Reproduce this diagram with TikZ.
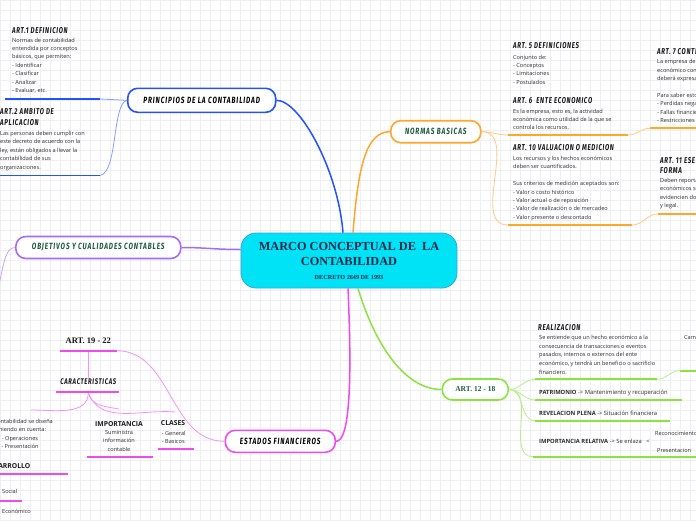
\documentclass[tikz,border=0pt]{standalone}
\usepackage{fontspec}
\setmainfont{Open Sans}
\newfontfamily\handfont[FakeStretch=0.72,LetterSpace=8]{Fira Sans}
\newfontfamily\topicfont[FakeStretch=0.72,LetterSpace=10]{Fira Sans}
\newfontfamily\slabfont{Liberation Serif}
\definecolor{blueline}{HTML}{2352FF}
\definecolor{orangeline}{HTML}{FFA62B}
\definecolor{purpleline}{HTML}{A46CF7}
\definecolor{pinkline}{HTML}{EE4BEF}
\definecolor{greenline}{HTML}{8BE33D}
\definecolor{darkgreen}{HTML}{1C5B3D}
\definecolor{navytext}{HTML}{13294B}
\definecolor{cyanfill}{HTML}{00E2F6}
\definecolor{cyanedge}{HTML}{3AA6DA}
\definecolor{gridline}{HTML}{EEEEF3}
\definecolor{bodytext}{HTML}{2E2E2E}

\begin{document}
\begin{tikzpicture}[x=1pt, y=-1pt,
  topic/.style={draw, line width=1.6pt, fill=white, rounded corners=10pt, inner sep=0pt,
    font=\topicfont\bfseries\itshape\fontsize{9}{10}\selectfont},
  arttitle/.style={anchor=north west, inner sep=0pt, align=left, text=black!90,
    font=\handfont\bfseries\itshape\fontsize{8.5}{10.6}\selectfont},
  artbody/.style={anchor=north west, inner sep=0pt, align=left, text=bodytext,
    font=\fontsize{5.6}{8.4}\selectfont},
  artrow/.style={anchor=base west, inner sep=0pt, text=bodytext,
    font=\fontsize{5.8}{8}\selectfont},
  capsword/.style={inner sep=0pt, text=black!90, font=\bfseries\fontsize{6.8}{8}\selectfont},
  trunk/.style={line width=1.5pt},
  link/.style={line width=0.8pt},
  uline/.style={line width=1.8pt}]
  \useasboundingbox (0,0) rectangle (696,520);
  \fill[white] (0,0) rectangle (696,520);
  \draw[gridline, step=10pt, line width=0.4pt] (0,520) grid (696,0);

  % Central topic.
  \node[draw=cyanedge, fill=cyanfill, line width=0.8pt, rounded corners=15pt,
        minimum width=216pt, minimum height=55pt, inner sep=0pt] (marco) at (349,260.5) {};
  \node[inner sep=0pt, align=center, text=navytext,
        font=\slabfont\bfseries\fontsize{12.3}{14.3}\selectfont] (marcotitle) at (349,254) {MARCO CONCEPTUAL DE~ LA\\CONTABILIDAD};
  \node[inner sep=0pt, text=navytext,
        font=\slabfont\bfseries\fontsize{6.2}{7}\selectfont] (decreto) at (349,277.7) {DECRETO 2649 DE 1993};

  % Main branches.
  \node[topic, draw=blueline, minimum width=148pt, minimum height=24pt] (principios) at (201.7,100.3) {PRINCIPIOS DE LA CONTABILIDAD};
  \node[topic, draw=orangeline, text=darkgreen, minimum width=90pt, minimum height=22pt] (normas) at (435.8,131.7) {NORMAS BASICAS};
  \node[topic, draw=purpleline, text=darkgreen, minimum width=165pt, minimum height=22pt] (objetivos) at (98.3,247.5) {OBJETIVOS Y CUALIDADES CONTABLES};
  \node[topic, draw=pinkline, minimum width=110pt, minimum height=22pt] (estados) at (280.3,441.3) {ESTADOS FINANCIEROS};
  \node[topic, draw=greenline, text=darkgreen, minimum width=66pt, minimum height=21pt,
        font=\slabfont\bfseries\fontsize{7.5}{8}\selectfont] (art12) at (475.3,389.5) {ART. 12 - 18};

  \draw[trunk, blueline] ([xshift=-6pt]marco.north) .. controls (338,170) and (300,100.3) .. (principios.east);
  \draw[trunk, orangeline] ([xshift=4pt]marco.north) .. controls (358,170) and (365,131.7) .. (normas.west);
  \draw[trunk, purpleline] ([yshift=11pt]marco.west) .. controls (215,249.5) and (205,247.5) .. (objetivos.east);
  \draw[trunk, pinkline] ([xshift=-1pt]marco.south) .. controls (352,380) and (350,441.3) .. (estados.east);
  \draw[trunk, greenline] ([xshift=9pt]marco.south) .. controls (375,345) and (405,389.5) .. (art12.west);

  % Principios de la contabilidad.
  \coordinate (art1L) at (5,99);   \coordinate (art1R) at (100,99);
  \coordinate (art2L) at (0,175.5); \coordinate (art2R) at (100,175.5);
  \draw[link, blueline!55] (principios.west) -- (art1R);
  \draw[link, blueline!55] (principios.west) .. controls (112,104) and (118,172) .. (art2R);
  \draw[uline, blueline] (art1L) -- (art1R);
  \draw[uline, blueline] (art2L) -- (art2R);
  \node[arttitle] (art1title) at (12,26.8) {ART.1 DEFINICION};
  \node[artbody] (art1body) at (12,37.7) {Normas de contabilidad\\entendida por conceptos\\básicos, que permiten:\\- Identificar\\- Clasificar\\- Analizar\\- Evaluar, etc.};
  \node[arttitle] (art2title) at (0,108.5) {ART.2 AMBITO DE\\APLICACION};
  \node[artbody] (art2body) at (0,131) {Las personas deben cumplir con\\este decreto de acuerdo con la\\ley, están obligados a llevar la\\contabilidad de sus\\organizaciones.};

  % Normas basicas.
  \coordinate (art6L) at (508,135);   \coordinate (art6R) at (628,135);
  \coordinate (art7L) at (650,128.3); \coordinate (art7R) at (700,128.3);
  \coordinate (art10L) at (508,225);  \coordinate (art10R) at (632,225);
  \coordinate (art11L) at (658,214);  \coordinate (art11R) at (700,214);
  \draw[link, orangeline!60] (normas.east) to[out=0,in=180] (art6L);
  \draw[link, orangeline!60] (normas.east) to[out=0,in=180] (art10L);
  \draw[link, orangeline!60] (art6R) to[out=0,in=180] (art7L);
  \draw[link, orangeline!60] (art10R) to[out=0,in=180] (art11L);
  \draw[uline, orangeline] (art6L) -- (art6R);
  \draw[uline, orangeline] (art7L) -- (art7R);
  \draw[uline, orangeline] (art10L) -- (art10R);
  \draw[uline, orangeline] (art11L) -- (art11R);
  \node[arttitle] (art5title) at (513,41.8) {ART. 5 DEFINICIONES};
  \node[artbody] (art5body) at (513,54.7) {Conjunto de:\\- Conceptos\\- Limitaciones\\- Postulados};
  \node[arttitle] (art6title) at (513,96.8) {ART. 6~ ENTE ECONOMICO};
  \node[artbody] (art6body) at (513,108.7) {Es la empresa, esto es, la actividad\\económica como utilidad de la que se\\controla los recursos.};
  \node[arttitle] (art7title) at (657,48.5) {ART. 7 CONTINUIDAD};
  \node[artbody] (art7body) at (657,59.3) {La empresa debe ser un ente\\económico continuo, lo cual\\deberá expresarse.\\[8.4pt]Para saber esto se analizan:\\- Perdidas negativas\\- Fallas financieras\\- Restricciones legales};
  \node[arttitle] (art10title) at (513,144.1) {ART. 10 VALUACION O MEDICION};
  \node[artbody] (art10body) at (513,156) {Los recursos y los hechos económicos\\deben ser cuantificados.\\[8.4pt]Sus criterios de medición aceptados son:\\- Valor o costo histórico\\- Valor actual o de reposición\\- Valor de realización o de mercadeo\\- Valor presente o descontado};
  \node[arttitle] (art11title) at (660,156.8) {ART. 11 ESENCIA SOBRE\\FORMA};
  \node[artbody] (art11body) at (660,178) {Deben reportarse los hechos\\económicos según su esencia,\\evidencien documentación formal\\y legal.};

  % Objetivos y cualidades contables.
  \coordinate (objout) at (-4,300);
  \draw[link, purpleline!60] (objetivos.west) .. controls (5,248) and (4,262) .. (objout);

  % Estados financieros.
  \coordinate (art19L) at (60,350.7);  \coordinate (art19R) at (116.7,350.7);
  \coordinate (art19M) at (88.3,350.7);
  \coordinate (caracL) at (56,391.7);  \coordinate (caracR) at (119.3,391.7);
  \coordinate (caracM) at (88.3,392.5);
  \coordinate (imporL) at (86.7,457.3); \coordinate (imporR) at (153.3,457.3);
  \coordinate (clasesL) at (157.7,449); \coordinate (clasesR) at (194.3,449);
  \coordinate (desarrL) at (-5,474);    \coordinate (desarrR) at (67.7,474);
  \coordinate (socialL) at (-5,500.7);  \coordinate (socialR) at (22.3,500.7);
  \coordinate (disenoTop) at (31,410);
  \coordinate (imporTop) at (119,409);
  \coordinate (clasesTop) at (175,412);
  \draw[link, pinkline!60] (estados.west) to[out=180,in=0] (art19R);
  \node[inner sep=0pt, text=black!90, font=\slabfont\bfseries\fontsize{8.5}{9}\selectfont] (art19) at (88.3,341) {ART. 19 - 22};
  \node[inner sep=0pt, text=black!90, font=\handfont\bfseries\itshape\fontsize{8.2}{9}\selectfont] (caract) at (88.3,381.7) {CARACTERISTICAS};
  \draw[link, pinkline!60] (art19M) -- (caract.north);
  \draw[link, pinkline!60] (caracM) to[out=-90,in=0] (disenoTop);
  \draw[link, pinkline!60] (caracM) to[out=-80,in=170] (imporTop);
  \draw[link, pinkline!60] (caracM) to[out=-70,in=175] (clasesTop);
  \draw[uline, pinkline] (art19L) -- (art19R);
  \draw[uline, pinkline] (caracL) -- (caracR);
  \draw[uline, pinkline] (imporL) -- (imporR);
  \draw[uline, pinkline] (clasesL) -- (clasesR);
  \draw[uline, pinkline] (desarrL) -- (desarrR);
  \draw[uline, pinkline] (socialL) -- (socialR);
  \node[artbody, anchor=north, align=center] (diseno) at (20,419) {La contabilidad se diseña\\teniendo en cuenta:\\- Operaciones\\- Presentación};
  \node[capsword] (importancia) at (119,424) {IMPORTANCIA};
  \node[artbody, anchor=north, align=center] (suministra) at (119,430) {Suministra\\información\\contable};
  \node[capsword] (clases) at (173,423.3) {CLASES};
  \node[artbody] (clasesbody) at (161.7,430.6) {- General\\- Basicos};
  \node[capsword, anchor=base west] (desarrollo) at (-14.5,468.4) {DESARROLLO};
  \node[artbody] (social) at (2,489) {Social};
  \node[artbody] (economico) at (2,509) {Económico};

  % Art. 12 - 18.
  \coordinate (realizL) at (535,379.3); \coordinate (realizR) at (656.7,379.3);
  \coordinate (cambiosL) at (680,370.7); \coordinate (cambiosR) at (700,370.7);
  \coordinate (patriL) at (535,400);    \coordinate (patriR) at (682,400);
  \coordinate (revelL) at (535,420.7);  \coordinate (revelR) at (670,420.7);
  \coordinate (relatL) at (533,456.7);  \coordinate (relatR) at (700,456.7);
  \foreach \tgt in {realizL, patriL, revelL, relatL}
    \draw[link, greenline!60] (art12.east) to[out=0,in=180] (\tgt);
  \draw[link, greenline!60] (realizR) to[out=0,in=180] (cambiosL);
  \draw[uline, greenline] (realizL) -- (realizR);
  \draw[uline, greenline] (cambiosL) -- (cambiosR);
  \draw[uline, greenline] (patriL) -- (patriR);
  \draw[uline, greenline] (revelL) -- (revelR);
  \draw[uline, greenline] (relatL) -- (relatR);
  \node[arttitle] (realiztitle) at (538,323.8) {REALIZACION};
  \node[artbody, font=\fontsize{5.6}{8.7}\selectfont] (realizbody) at (539,335) {Se entiende que un hecho económico a la\\consecuencia de transacciones o eventos\\pasados, internos o externos del ente\\económico, y tendrá un beneficio o sacrificio\\financiero.};
  \node[artbody] (cambios) at (684,335) {Cambios};
  \node[artrow] (patrimonio) at (539,394.4) {\textbf{PATRIMONIO} -> Mantenimiento y recuperación};
  \node[artrow] (revelacion) at (539,415.4) {\textbf{REVELACION PLENA} -> Situación financiera};
  \node[artrow] (relativa) at (539,443.8) {\textbf{IMPORTANCIA RELATIVA} -> Se enlaza~~ <};
  \node[artrow, font=\fontsize{5.6}{8}\selectfont] (reconoc) at (655,435.3) {Reconocimiento};
  \node[artrow, font=\fontsize{5.6}{8}\selectfont] (presentac) at (657,452) {Presentacion};
\end{tikzpicture}
\end{document}
